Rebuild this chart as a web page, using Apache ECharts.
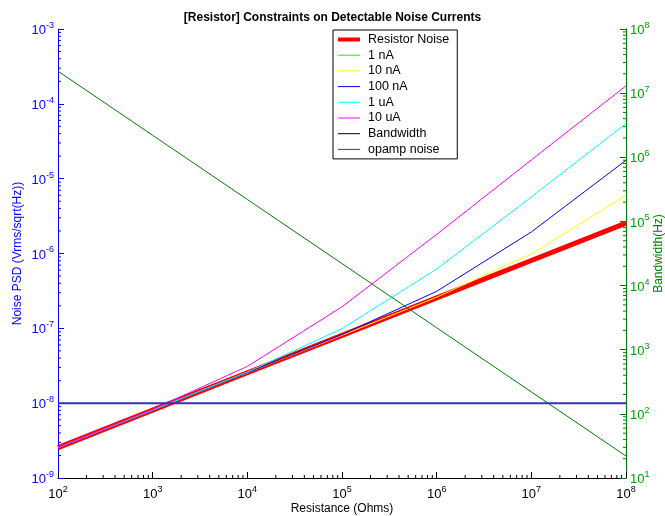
<!DOCTYPE html>
<html><head><meta charset="utf-8">
<script src="https://cdn.jsdelivr.net/npm/echarts@6/dist/echarts.min.js"></script>
<style>html,body{margin:0;padding:0;background:#fff}#c{width:665px;height:516px}</style>
</head><body><div id="c"></div>
<script>
// ---- data ----
const resistance = [1e2, 1e3, 1e4, 1e5, 1e6, 1e7, 1e8];
const resistorNoise = [2.55e-9, 8.06e-9, 2.55e-8, 8.06e-8, 2.55e-7, 8.06e-7, 2.55e-6];
const noise1nA   = [2.55e-9, 8.06e-9, 2.55e-8, 8.06e-8, 2.55e-7, 8.1e-7, 2.6e-6];
const noise10nA  = [2.55e-9, 8.06e-9, 2.55e-8, 8.08e-8, 2.61e-7, 9.85e-7, 6.0e-6];
const noise100nA = [2.55e-9, 8.06e-9, 2.56e-8, 8.26e-8, 3.12e-7, 1.94e-6, 1.76e-5];
const noise1uA   = [2.55e-9, 8.08e-9, 2.61e-8, 9.9e-8, 6.2e-7, 5.7e-6, 5.45e-5];
const noise10uA  = [2.56e-9, 8.26e-9, 3.1e-8, 1.94e-7, 1.8e-6, 1.78e-5, 1.74e-4];
const bandwidth  = [2.2e7, 2.2e6, 2.2e5, 2.2e4, 2.2e3, 2.2e2, 22];
const opampNoise = [1e-8, 1e-8, 1e-8, 1e-8, 1e-8, 1e-8, 1e-8];
const seriesNames = ['Resistor Noise', '1 nA', '10 nA', '100 nA', '1 uA', '10 uA', 'Bandwidth', 'opamp noise'];
const xTickExps = [2, 3, 4, 5, 6, 7, 8];
const yLeftTickExps = [-9, -8, -7, -6, -5, -4, -3];
const yRightTickExps = [1, 2, 3, 4, 5, 6, 7, 8];

const FONT = 'Liberation Sans, Arial, Helvetica, sans-serif';
const pair = (ys) => resistance.map((x, i) => [x, ys[i]]);
function supLabel(v) {
  const e = Math.round(Math.log10(v));
  return '{b|10}{s|' + e + '}';
}
function rich(color) {
  return {
    b: {fontSize: 13, fontFamily: FONT, color: color, verticalAlign: 'bottom'},
    s: {fontSize: 9, fontFamily: FONT, color: color, verticalAlign: 'bottom', padding: [0, 0, 7, 0]}
  };
}
function minors(exps) {
  const out = [];
  for (let i = 0; i < exps.length - 1; i++) for (let m = 2; m <= 9; m++) out.push(m * Math.pow(10, exps[i]));
  return out;
}

const xMin = Math.pow(10, xTickExps[0]), xMax = Math.pow(10, xTickExps[xTickExps.length - 1]);
const yMin = Math.pow(10, yLeftTickExps[0]);

function tickSeries(kind, vals, len, color, yAxisIndex) {
  return {
    type: 'custom', silent: true, xAxisIndex: 0, yAxisIndex: yAxisIndex, z: 1,
    data: vals.map(v => [v]),
    renderItem: function (params, api) {
      const v = api.value(0);
      let p, x2, y2;
      if (kind === 'x') { p = api.coord([v, yMin]); x2 = p[0]; y2 = p[1] - len; }
      else if (kind === 'yl') { p = api.coord([xMin, v]); x2 = p[0] + len; y2 = p[1]; }
      else { p = api.coord([xMax, v]); x2 = p[0] - len; y2 = p[1]; }
      return {type: 'line', shape: {x1: p[0], y1: p[1], x2: x2, y2: y2}, style: {stroke: color, lineWidth: 1}};
    }
  };
}

function lineS(name, ys, color, width, z, yAxisIndex) {
  return {name: name, type: 'line', data: pair(ys), yAxisIndex: yAxisIndex || 0, symbol: 'none',
    lineStyle: {color: color, width: width}, itemStyle: {color: color}, z: z, animation: false};
}
const thinIcon = 'path://M0,0L22,0L22,1L0,1Z';
const thickIcon = 'path://M0,0L22,0L22,4L0,4Z';

const chart = echarts.init(document.getElementById('c'), null, {renderer: 'canvas'});
chart.setOption({
  animation: false,
  backgroundColor: '#fff',
  title: {text: '[Resistor] Constraints on Detectable Noise Currents', left: 'center', top: 7,
    textStyle: {fontFamily: FONT, fontSize: 12, fontWeight: 'bold', color: '#000'}},
  grid: {left: 58, right: 39, top: 29, bottom: 38, outerBoundsMode: 'none', containLabel: false},
  legend: {
    orient: 'vertical', left: 333, top: 30, itemWidth: 22, itemHeight: 12, itemGap: 2.7,
    padding: [3, 8, 3, 5], borderColor: '#000', borderWidth: 1, backgroundColor: '#fff',
    textStyle: {fontFamily: FONT, fontSize: 12.5, color: '#000', padding: [0, 0, 0, 3]},
    data: [
      {name: seriesNames[0], icon: thickIcon}, {name: seriesNames[1], icon: thinIcon},
      {name: seriesNames[2], icon: thinIcon}, {name: seriesNames[3], icon: thinIcon},
      {name: seriesNames[4], icon: thinIcon}, {name: seriesNames[5], icon: thinIcon},
      {name: seriesNames[6], icon: thinIcon, itemStyle: {color: '#000'}},
      {name: seriesNames[7], icon: thinIcon}
    ],
    selectedMode: false
  },
  xAxis: {
    type: 'log', min: xMin, max: xMax, logBase: 10,
    name: 'Resistance (Ohms)', nameLocation: 'middle', nameGap: 25, nameMoveOverlap: false,
    nameTextStyle: {fontFamily: FONT, fontSize: 12, color: '#000'},
    axisLine: {show: true, lineStyle: {color: '#000', width: 1}},
    axisTick: {show: true, inside: true, length: 6, lineStyle: {color: '#000'}},
    axisLabel: {formatter: supLabel, rich: rich('#000'), margin: 7},
    splitLine: {show: false}
  },
  yAxis: [
    {type: 'log', min: yMin, max: Math.pow(10, yLeftTickExps[yLeftTickExps.length - 1]), logBase: 10,
      position: 'left', name: 'Noise PSD (Vrms/sqrt(Hz))', nameLocation: 'middle', nameGap: 34, nameMoveOverlap: false,
      nameTextStyle: {fontFamily: FONT, fontSize: 12, color: '#0000ff'},
      axisLine: {show: true, lineStyle: {color: '#0000ff', width: 1}},
      axisTick: {show: true, inside: true, length: 6, lineStyle: {color: '#0000ff'}},
      axisLabel: {formatter: supLabel, rich: rich('#0000ff'), margin: 4},
      splitLine: {show: false}},
    {type: 'log', min: Math.pow(10, yRightTickExps[0]), max: Math.pow(10, yRightTickExps[yRightTickExps.length - 1]), logBase: 10,
      position: 'right', name: 'Bandwidth(Hz)', nameLocation: 'middle', nameGap: 27, nameRotate: 90, nameMoveOverlap: false,
      nameTextStyle: {fontFamily: FONT, fontSize: 12, color: '#008000'},
      axisLine: {show: true, lineStyle: {color: '#008000', width: 1}},
      axisTick: {show: true, inside: true, length: 6, lineStyle: {color: '#008000'}},
      axisLabel: {formatter: supLabel, rich: rich('#00a000'), margin: 4},
      splitLine: {show: false}}
  ],
  series: [
    lineS(seriesNames[1], noise1nA, '#00ff00', 1, 2),
    lineS(seriesNames[0], resistorNoise, '#ff0000', 5, 3),
    lineS(seriesNames[2], noise10nA, '#ffff00', 1, 4),
    lineS(seriesNames[3], noise100nA, '#0000ff', 1, 5),
    lineS(seriesNames[4], noise1uA, '#00ffff', 1, 6),
    lineS(seriesNames[5], noise10uA, '#ff00ff', 1, 7),
    lineS(seriesNames[6], bandwidth, '#008000', 1, 8, 1),
    lineS(seriesNames[7], opampNoise, '#3333b0', 2, 8),
    tickSeries('x', minors(xTickExps), 3, '#000', 0),
    tickSeries('yl', minors(yLeftTickExps), 3, '#0000ff', 0),
    tickSeries('yr', minors(yRightTickExps), 3, '#008000', 1)
  ]
});
</script></body></html>
